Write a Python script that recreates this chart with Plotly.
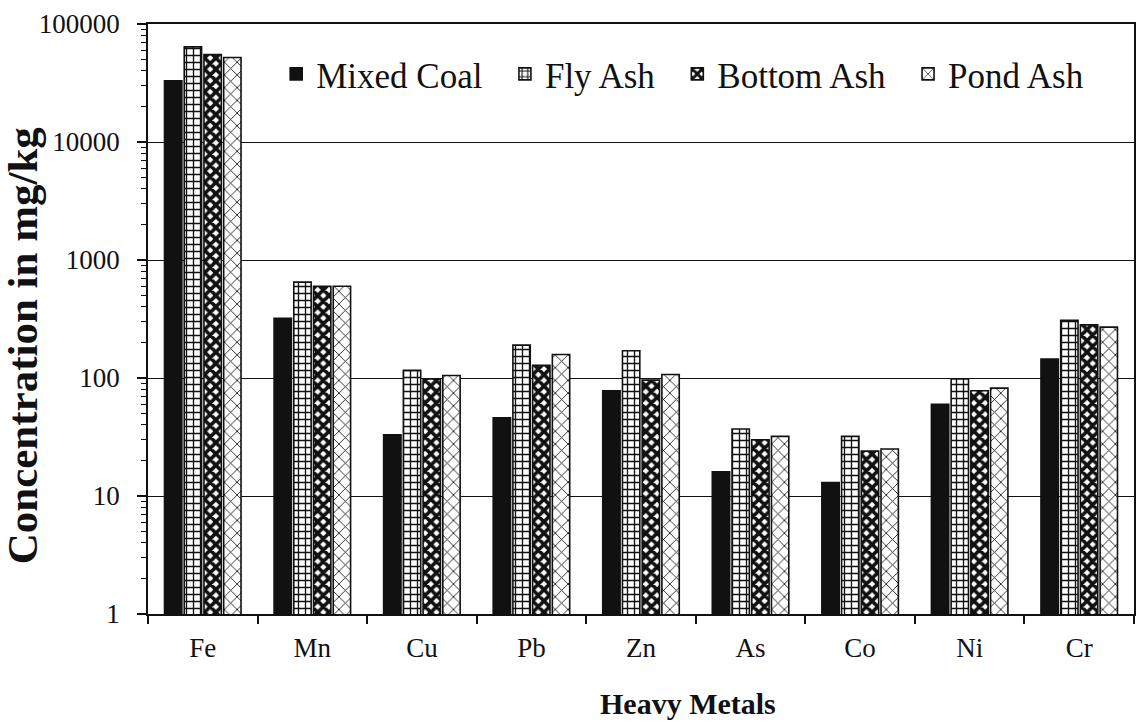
import plotly.graph_objects as go

# Heavy metal concentrations (mg/kg) in coal and ash samples
metals = ["Fe", "Mn", "Cu", "Pb", "Zn", "As", "Co", "Ni", "Cr"]
mixed_coal = [33000, 320, 33, 46, 78, 16, 13, 60, 145]
fly_ash = [64000, 650, 116, 190, 170, 37, 32, 98, 308]
bottom_ash = [55000, 600, 98, 128, 96, 30, 24, 78, 282]
pond_ash = [52000, 600, 105, 158, 107, 32, 25, 82, 270]

y_ticks = [1, 10, 100, 1000, 10000, 100000]
y_tick_text = ["1", "10", "100", "1000", "10000", "100000"]

FONT = "Liberation Serif"
INK = "#111111"
PAD = "\u00a0\u00a0"  # extra room between legend entries

series = [
    ("Mixed Coal", mixed_coal, None),
    ("Fly Ash", fly_ash, dict(shape="+", fgcolor=INK, bgcolor="white", size=7, solidity=0.35)),
    ("Bottom Ash", bottom_ash, dict(shape="x", fgcolor=INK, bgcolor="white", size=8, solidity=0.7)),
    ("Pond Ash", pond_ash, dict(shape="x", fgcolor=INK, bgcolor="white", size=9, solidity=0.18)),
]

fig = go.Figure()
for i, (name, vals, pat) in enumerate(series):
    marker = dict(color=INK if pat is None else "white",
                  line=dict(color=INK, width=1.6))
    if pat is not None:
        marker["pattern"] = dict(fillmode="replace", **pat)
    label = name + (PAD if i < len(series) - 1 else "")
    fig.add_trace(go.Bar(name=label, x=metals, y=vals, marker=marker))

fig.update_layout(
    width=1139, height=722,
    margin=dict(l=148, r=3, t=24, b=108),
    paper_bgcolor="white", plot_bgcolor="white",
    barmode="group", bargap=0.28, bargroupgap=0.12,
    font=dict(family=FONT, color=INK),
    showlegend=True,
    legend=dict(
        orientation="h", x=0.13, y=0.915, xanchor="left", yanchor="middle",
        bgcolor="rgba(0,0,0,0)", font=dict(size=35, family=FONT, color=INK),
        itemwidth=30, traceorder="normal",
    ),
    annotations=[
        dict(text="<b>Concentration in mg/kg</b>", textangle=-90,
             xref="paper", yref="paper", x=-0.127, y=0.455,
             xanchor="center", yanchor="middle", showarrow=False,
             font=dict(size=43, family=FONT, color=INK)),
        dict(text="<b>Heavy Metals</b>",
             xref="paper", yref="paper", x=0.548, y=-0.151,
             xanchor="center", yanchor="middle", showarrow=False,
             font=dict(size=30, family=FONT, color=INK)),
    ],
)

fig.update_xaxes(
    showline=True, linecolor=INK, linewidth=1.5, mirror=True,
    ticks="outside", tickson="boundaries", ticklen=8, tickcolor=INK, tickwidth=1.5,
    tickfont=dict(size=27, family=FONT, color=INK), ticklabelstandoff=9,
    showgrid=False,
)

fig.update_yaxes(
    type="log", range=[0, 5],
    tickmode="array", tickvals=y_ticks, ticktext=y_tick_text,
    showline=True, linecolor=INK, linewidth=1.5, mirror=True,
    ticks="outside", ticklen=9, tickcolor=INK, tickwidth=1.5,
    tickfont=dict(size=27, family=FONT, color=INK), ticklabelstandoff=12,
    minor=dict(ticks="outside", ticklen=5, tickcolor=INK, tickwidth=1, dtick="D1", showgrid=False),
    showgrid=True, gridcolor=INK, gridwidth=1.3,
    zeroline=False,
)

fig.write_html("out.html")
